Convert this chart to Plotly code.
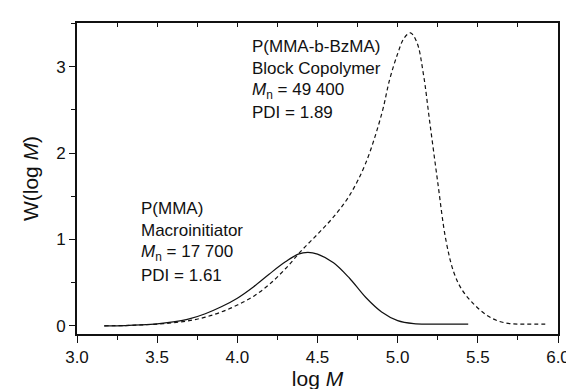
import plotly.graph_objects as go

# P(MMA) macroinitiator (solid)
mma_logM = [3.17, 3.30, 3.40, 3.50, 3.60, 3.70, 3.80, 3.90, 4.00, 4.10, 4.20, 4.30, 4.38, 4.44,
            4.50, 4.60, 4.70, 4.80, 4.90, 5.00, 5.10, 5.20, 5.30, 5.44]
mma_w = [0.00, 0.003, 0.01, 0.022, 0.045, 0.08, 0.14, 0.22, 0.32, 0.45, 0.60, 0.74, 0.83, 0.85,
         0.83, 0.73, 0.55, 0.33, 0.16, 0.06, 0.025, 0.02, 0.02, 0.02]

# P(MMA-b-BzMA) block copolymer (dashed)
blk_logM = [3.17, 3.30, 3.40, 3.50, 3.60, 3.70, 3.80, 3.90, 4.00, 4.10, 4.20, 4.30, 4.40, 4.50,
            4.60, 4.70, 4.80, 4.90, 4.95, 5.00, 5.04, 5.08, 5.12, 5.16, 5.20, 5.25, 5.30, 5.35,
            5.40, 5.47, 5.55, 5.62, 5.70, 5.80, 5.94]
blk_w = [0.00, 0.003, 0.01, 0.02, 0.035, 0.06, 0.10, 0.16, 0.24, 0.34, 0.48, 0.66, 0.87, 1.06,
         1.26, 1.51, 1.88, 2.45, 2.85, 3.15, 3.33, 3.39, 3.28, 2.92, 2.36, 1.66, 1.00, 0.62,
         0.42, 0.26, 0.13, 0.06, 0.025, 0.02, 0.02]

x_ticks = [3.0, 3.5, 4.0, 4.5, 5.0, 5.5, 6.0]
x_tick_labels = ["3.0", "3.5", "4.0", "4.5", "5.0", "5.5", "6.0"]
y_ticks = [0, 1, 2, 3]

label_upper = ["P(MMA-b-BzMA)", "Block Copolymer", "<i>M</i><sub>n</sub> = 49 400", "PDI = 1.89"]
label_lower = ["P(MMA)", "Macroinitiator", "<i>M</i><sub>n</sub> = 17 700", "PDI = 1.61"]

FONT = "Liberation Sans, Arial, sans-serif"
W, H = 574, 389
ml, mr, mt, mb = 69, 15, 15, 52
x0, x1 = 3.0, 6.0
y0, y1 = -0.095, 3.505

fig = go.Figure()
fig.add_trace(go.Scatter(x=mma_logM, y=mma_w, mode="lines", line_shape="spline",
                         line=dict(color="#111", width=1.2), showlegend=False))
fig.add_trace(go.Scatter(x=blk_logM, y=blk_w, mode="lines", line_shape="spline",
                         line=dict(color="#111", width=1.2, dash="4px,3px"), showlegend=False))
# invisible trace carrying the top axis (inward ticks)
fig.add_trace(go.Scatter(x=[x0], y=[y0], xaxis="x2", mode="markers",
                         marker=dict(opacity=0), showlegend=False, hoverinfo="skip"))

ph = H - mt - mb
pw = W - ml - mr


def px_to_y(py):
    return y1 - (py - mt) / ph * (y1 - y0)


def px_to_x(px):
    return x0 + (px - ml) / pw * (x1 - x0)


annotations = []
for i, t in enumerate(label_upper):
    annotations.append(dict(x=px_to_x(245), y=px_to_y(39 + 23 * i), xref="x", yref="y", text=t,
                            showarrow=False, xanchor="left", yanchor="middle",
                            font=dict(family=FONT, size=17, color="#111")))
for i, t in enumerate(label_lower):
    annotations.append(dict(x=px_to_x(132), y=px_to_y(207 + 23 * i), xref="x", yref="y", text=t,
                            showarrow=False, xanchor="left", yanchor="middle",
                            font=dict(family=FONT, size=17, color="#111")))

fig.update_layout(
    width=W, height=H,
    margin=dict(l=ml, r=mr, t=mt, b=mb),
    paper_bgcolor="white", plot_bgcolor="white",
    font=dict(family=FONT, color="#111"),
    annotations=annotations,
    xaxis=dict(range=[x0, x1], tickvals=x_ticks, ticktext=x_tick_labels, ticks="outside",
               ticklen=7, tickwidth=1.3, tickcolor="#111", showline=True, linecolor="#111",
               linewidth=1.6, mirror=True, showgrid=False, zeroline=False,
               tickfont=dict(size=17, family=FONT),
               minor=dict(dtick=0.25, tick0=0, ticks="outside", ticklen=4, tickwidth=1.2,
                          tickcolor="#111", showgrid=False),
               title=dict(text="log <i>M</i>", font=dict(size=21, family=FONT), standoff=3)),
    xaxis2=dict(range=[x0, x1], overlaying="x", side="top", dtick=0.25, tick0=0,
                ticks="inside", ticklen=4, tickwidth=1.2, tickcolor="#111",
                showticklabels=False, showgrid=False, zeroline=False, showline=False),
    yaxis=dict(range=[y0, y1], tickvals=y_ticks, ticks="outside", ticklen=6, tickwidth=1.3,
               tickcolor="#111", showline=True, linecolor="#111", linewidth=1.6, mirror=True,
               showgrid=False, zeroline=False, tickfont=dict(size=17, family=FONT),
               minor=dict(dtick=0.5, tick0=0, ticks="outside", ticklen=4, tickwidth=1.2,
                          tickcolor="#111", showgrid=False),
               title=dict(text="W(log <i>M</i>)", font=dict(size=21, family=FONT), standoff=12)),
)

fig.write_html("out.html")
